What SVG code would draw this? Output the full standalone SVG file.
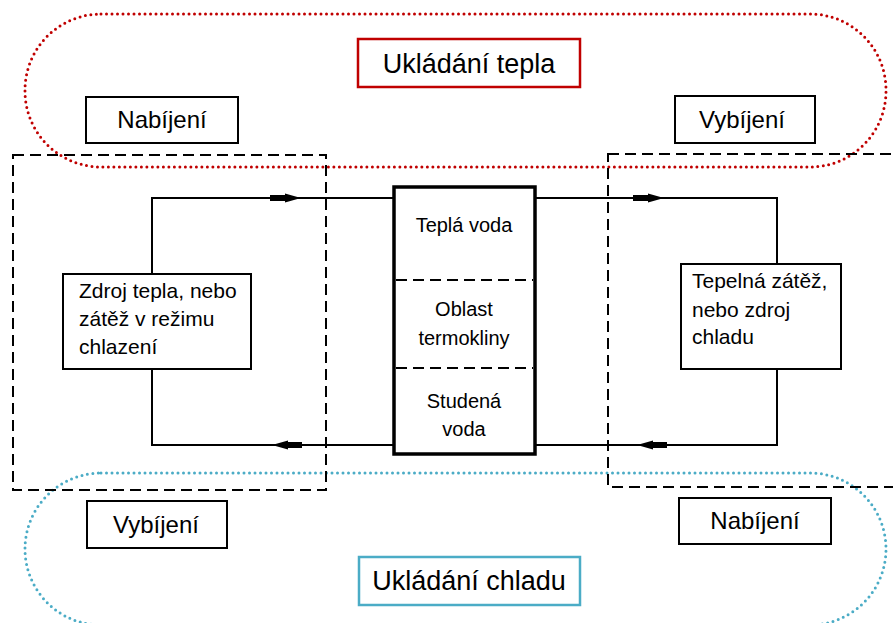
<svg xmlns="http://www.w3.org/2000/svg" width="893" height="623" viewBox="0 0 893 623">
<style>
  text { font-family: "Liberation Sans", Arial, sans-serif; fill: #000; }
  .box { fill: #fff; stroke: #000; stroke-width: 2; }
  .lbl { font-size: 24px; text-anchor: middle; }
  .title { font-size: 27px; text-anchor: middle; }
  .body { font-size: 21px; }
  .tank { font-size: 20px; text-anchor: middle; }
  .pipe { fill: none; stroke: #000; stroke-width: 2; }
  .zone { fill: none; stroke: #000; stroke-width: 2; stroke-dasharray: 11 6; }
  .pillR { fill: none; stroke: #C00000; stroke-width: 3; stroke-dasharray: 0 5.5; stroke-linecap: round; }
  .pillB { fill: none; stroke: #4BACC6; stroke-width: 3; stroke-dasharray: 0 5.5; stroke-linecap: round; }
</style>
<rect width="893" height="623" fill="#fff"/>

<g id="heat-storage-zone">
  <rect class="pillR" x="25" y="14" width="861" height="153" rx="76" ry="76"/>
</g>
<g id="cold-storage-zone">
  <rect class="pillB" x="25" y="473" width="861" height="152" rx="76" ry="76"/>
</g>

<g id="left-zone">
  <rect class="zone" x="13" y="155" width="313" height="335"/>
</g>
<g id="right-zone">
  <rect class="zone" x="608" y="154" width="300" height="333"/>
</g>

<g id="connectors">
  <path class="pipe" d="M152,274 V198 H394"/>
  <path class="pipe" d="M535,198 H777 V264"/>
  <path class="pipe" d="M152,369 V445 H394"/>
  <path class="pipe" d="M535,445 H777 V369"/>
  <path d="M270,195 H285 V193.5 L301,198 L285,202.5 V201 H270 Z" fill="#000"/>
  <path d="M633,195 H648 V193.5 L664,198 L648,202.5 V201 H633 Z" fill="#000"/>
  <path d="M302,442 H288 V440.5 L272,445 L288,449.5 V448 H302 Z" fill="#000"/>
  <path d="M667,442 H653 V440.5 L637,445 L653,449.5 V448 H667 Z" fill="#000"/>
</g>

<g id="title-heat">
  <rect x="358" y="39" width="222" height="48" fill="#fff" stroke="#C00000" stroke-width="2.5"/>
  <text class="title" x="469" y="73">Ukládání tepla</text>
</g>
<g id="title-cold">
  <rect x="359" y="557" width="221" height="48" fill="#fff" stroke="#4BACC6" stroke-width="2.5"/>
  <text class="title" x="469" y="590">Ukládání chladu</text>
</g>

<g id="charge-top-left">
  <rect class="box" x="86" y="97" width="152" height="46"/>
  <text class="lbl" x="162" y="128">Nabíjení</text>
</g>
<g id="discharge-top-right">
  <rect class="box" x="675" y="96" width="140" height="47"/>
  <text class="lbl" x="742" y="128">Vybíjení</text>
</g>
<g id="discharge-bottom-left">
  <rect class="box" x="87" y="501" width="140" height="47"/>
  <text class="lbl" x="156" y="533">Vybíjení</text>
</g>
<g id="charge-bottom-right">
  <rect class="box" x="679" y="498" width="152" height="46"/>
  <text class="lbl" x="755" y="529">Nabíjení</text>
</g>

<g id="tank">
  <rect x="394" y="187" width="141" height="267" fill="#fff" stroke="#000" stroke-width="3.5"/>
  <line x1="396" y1="280" x2="533" y2="280" stroke="#000" stroke-width="2" stroke-dasharray="11 6"/>
  <line x1="396" y1="368" x2="533" y2="368" stroke="#000" stroke-width="2" stroke-dasharray="11 6"/>
  <text class="tank" x="464" y="232">Teplá voda</text>
  <text class="tank" x="464" y="316">Oblast</text>
  <text class="tank" x="464" y="345">termokliny</text>
  <text class="tank" x="464" y="408">Studená</text>
  <text class="tank" x="464" y="436">voda</text>
</g>

<g id="heat-source">
  <rect class="box" x="63" y="274" width="188" height="95"/>
  <text class="body" x="79" y="298">Zdroj tepla, nebo</text>
  <text class="body" x="79" y="326">zátěž v režimu</text>
  <text class="body" x="79" y="354">chlazení</text>
</g>
<g id="heat-load">
  <rect class="box" x="681" y="264" width="160" height="105"/>
  <text class="body" x="692" y="288">Tepelná zátěž,</text>
  <text class="body" x="692" y="317">nebo zdroj</text>
  <text class="body" x="692" y="344">chladu</text>
</g>
</svg>
